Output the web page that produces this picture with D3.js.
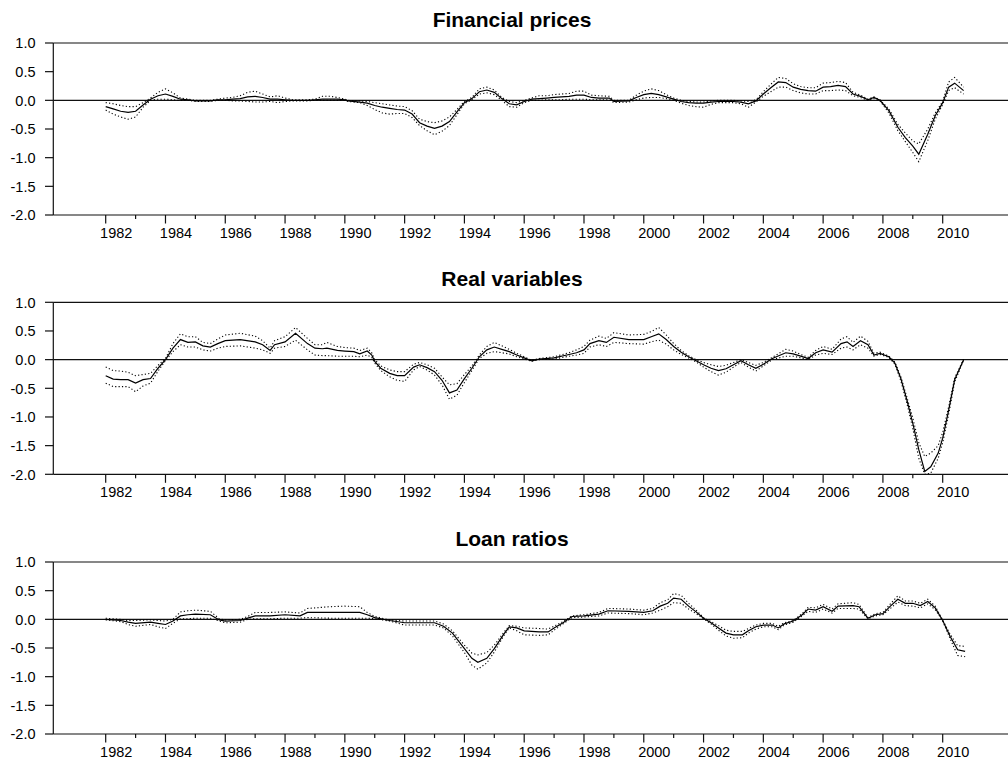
<!DOCTYPE html>
<html>
<head>
<meta charset="utf-8">
<script src="https://cdn.jsdelivr.net/npm/d3@7/dist/d3.min.js"></script>
<style>
  html, body { margin: 0; padding: 0; background: #fff; }
  svg { display: block; font-family: "Liberation Sans", Arial, sans-serif; }
</style>
</head>
<body>
<svg id="chart" width="1008" height="762"></svg>
<script>
// ---- Panel titles ----
const panelTitles = ["Financial prices", "Real variables", "Loan ratios"];

// ---- Axis ticks ----
const yTickValues = [1.0, 0.5, 0.0, -0.5, -1.0, -1.5, -2.0];
const yTickLabels = ["1.0", "0.5", "0.0", "-0.5", "-1.0", "-1.5", "-2.0"];
const xTickYears = d3.range(1982, 2011);
const xLabelYears = [1982, 1984, 1986, 1988, 1990, 1992, 1994, 1996, 1998, 2000, 2002, 2004, 2006, 2008, 2010];

// ---- Financial prices: estimate with upper / lower bands ----
const finDates = [1982.0,1982.25,1982.5,1982.75,1983.0,1983.25,1983.5,1983.75,1984.0,1984.25,1984.5,1984.75,1985.0,1985.5,1985.75,1986.0,1986.25,1986.5,1986.75,1987.0,1987.25,1987.5,1987.75,1988.0,1988.25,1988.75,1989.0,1989.25,1989.5,1989.75,1990.0,1990.1,1990.5,1990.75,1991.0,1991.25,1991.5,1991.75,1992.0,1992.25,1992.5,1992.75,1993.0,1993.25,1993.5,1993.75,1994.0,1994.25,1994.5,1994.75,1995.0,1995.25,1995.5,1995.75,1996.0,1996.25,1996.5,1996.75,1997.0,1997.25,1997.5,1997.75,1998.0,1998.25,1998.5,1998.85,1999.0,1999.5,1999.75,2000.0,2000.25,2000.5,2000.75,2001.0,2001.25,2001.5,2001.75,2002.0,2002.25,2002.5,2003.0,2003.25,2003.5,2003.75,2004.0,2004.25,2004.5,2004.75,2005.0,2005.25,2005.5,2005.75,2006.0,2006.25,2006.5,2006.75,2007.0,2007.25,2007.5,2007.7,2007.9,2008.2,2008.5,2008.75,2009.0,2009.2,2009.5,2009.75,2010.0,2010.2,2010.4,2010.7];
const finMid   = [-0.11,-0.15,-0.19,-0.21,-0.19,-0.08,0.02,0.08,0.11,0.07,0.02,0.01,-0.01,-0.01,0.01,0.01,0.02,0.03,0.06,0.07,0.05,0.02,0.02,0.01,0.0,0.0,0.01,0.02,0.02,0.02,0.01,-0.01,-0.03,-0.05,-0.09,-0.12,-0.14,-0.16,-0.17,-0.24,-0.39,-0.45,-0.49,-0.45,-0.37,-0.20,-0.04,0.03,0.15,0.18,0.14,0.03,-0.06,-0.08,-0.02,0.02,0.03,0.04,0.05,0.06,0.07,0.09,0.09,0.05,0.04,0.04,-0.02,-0.01,0.05,0.10,0.12,0.10,0.06,0.02,-0.02,-0.04,-0.05,-0.05,-0.03,-0.02,-0.02,-0.03,-0.06,-0.01,0.11,0.22,0.32,0.31,0.23,0.19,0.17,0.16,0.23,0.24,0.26,0.24,0.11,0.07,0.01,0.05,0.0,-0.18,-0.47,-0.65,-0.80,-0.94,-0.59,-0.27,-0.04,0.23,0.30,0.17];
const finUpper = [-0.04,-0.06,-0.09,-0.11,-0.11,-0.04,0.04,0.14,0.20,0.13,0.04,0.02,0.0,0.0,0.02,0.04,0.05,0.08,0.14,0.16,0.11,0.06,0.08,0.04,0.01,0.01,0.02,0.07,0.07,0.05,0.02,0.0,-0.01,-0.02,-0.04,-0.06,-0.08,-0.10,-0.11,-0.18,-0.33,-0.37,-0.39,-0.36,-0.29,-0.16,-0.02,0.05,0.20,0.23,0.18,0.05,-0.02,-0.04,0.0,0.04,0.08,0.08,0.10,0.11,0.12,0.16,0.16,0.09,0.08,0.07,0.0,0.0,0.09,0.16,0.20,0.17,0.10,0.04,0.0,-0.02,-0.03,-0.03,-0.01,0.0,0.0,-0.01,-0.02,0.01,0.15,0.28,0.40,0.38,0.29,0.24,0.22,0.22,0.30,0.31,0.33,0.31,0.14,0.09,0.02,0.06,0.01,-0.15,-0.42,-0.57,-0.71,-0.76,-0.50,-0.22,-0.02,0.32,0.40,0.23];
const finLower = [-0.17,-0.24,-0.29,-0.33,-0.29,-0.12,0.0,0.02,0.02,0.01,0.0,0.0,-0.02,-0.02,0.0,0.0,-0.01,-0.01,-0.02,-0.03,-0.03,-0.02,-0.04,-0.02,-0.01,-0.01,0.0,0.0,0.0,0.0,0.0,-0.02,-0.04,-0.09,-0.16,-0.22,-0.24,-0.23,-0.23,-0.30,-0.44,-0.53,-0.60,-0.54,-0.44,-0.25,-0.06,0.01,0.11,0.13,0.10,0.0,-0.11,-0.12,-0.04,0.0,0.0,0.01,0.01,0.01,0.02,0.02,0.02,0.01,0.01,0.01,-0.04,-0.03,0.01,0.04,0.05,0.05,0.03,0.0,-0.05,-0.09,-0.11,-0.12,-0.07,-0.04,-0.04,-0.06,-0.12,-0.03,0.07,0.15,0.23,0.23,0.17,0.13,0.11,0.11,0.17,0.17,0.18,0.17,0.08,0.05,0.0,0.03,-0.01,-0.22,-0.53,-0.72,-0.91,-1.07,-0.70,-0.33,-0.07,0.17,0.22,0.11];

// ---- Real variables ----
const realDates = [1982.0,1982.25,1982.5,1982.75,1983.0,1983.25,1983.5,1983.75,1984.0,1984.25,1984.5,1984.75,1985.0,1985.25,1985.5,1985.75,1986.0,1986.5,1987.0,1987.25,1987.5,1987.65,1988.0,1988.35,1988.75,1989.0,1989.25,1989.4,1989.75,1990.0,1990.3,1990.5,1990.75,1990.9,1991.0,1991.2,1991.5,1991.75,1992.0,1992.3,1992.5,1992.75,1993.0,1993.25,1993.5,1993.75,1994.0,1994.25,1994.5,1994.75,1995.0,1995.25,1995.5,1995.75,1996.0,1996.25,1996.5,1997.0,1997.5,1997.75,1998.0,1998.2,1998.5,1998.75,1999.0,1999.5,2000.0,2000.25,2000.5,2000.75,2001.0,2001.25,2001.5,2001.75,2002.0,2002.25,2002.5,2002.75,2003.0,2003.25,2003.5,2003.75,2004.0,2004.3,2004.75,2005.0,2005.25,2005.5,2005.75,2006.0,2006.3,2006.6,2006.8,2007.0,2007.25,2007.5,2007.7,2007.9,2008.2,2008.4,2008.6,2008.8,2009.0,2009.2,2009.4,2009.6,2009.85,2010.0,2010.2,2010.4,2010.7];
const realMid   = [-0.28,-0.34,-0.35,-0.35,-0.41,-0.35,-0.33,-0.15,0.0,0.20,0.35,0.30,0.31,0.24,0.22,0.28,0.33,0.35,0.31,0.26,0.16,0.26,0.31,0.46,0.28,0.20,0.19,0.20,0.16,0.15,0.14,0.10,0.15,0.08,-0.03,-0.15,-0.24,-0.28,-0.28,-0.13,-0.09,-0.14,-0.21,-0.36,-0.58,-0.53,-0.33,-0.15,0.05,0.17,0.22,0.18,0.14,0.08,0.03,-0.02,0.01,0.03,0.09,0.12,0.17,0.28,0.33,0.30,0.39,0.35,0.35,0.40,0.45,0.35,0.23,0.13,0.05,-0.02,-0.09,-0.15,-0.19,-0.16,-0.09,-0.02,-0.09,-0.15,-0.08,0.02,0.12,0.10,0.06,0.02,0.12,0.17,0.13,0.28,0.31,0.23,0.33,0.26,0.08,0.11,0.05,-0.06,-0.33,-0.70,-1.11,-1.57,-1.95,-1.87,-1.63,-1.37,-0.88,-0.35,0.0];
const realUpper = [-0.13,-0.19,-0.20,-0.22,-0.28,-0.26,-0.24,-0.10,0.02,0.28,0.45,0.40,0.40,0.30,0.28,0.36,0.43,0.46,0.41,0.33,0.20,0.33,0.40,0.56,0.37,0.26,0.26,0.30,0.23,0.21,0.20,0.16,0.20,0.12,0.0,-0.11,-0.18,-0.21,-0.21,-0.08,-0.05,-0.09,-0.15,-0.30,-0.44,-0.42,-0.26,-0.11,0.08,0.23,0.30,0.24,0.18,0.11,0.05,-0.01,0.02,0.05,0.12,0.17,0.23,0.34,0.41,0.37,0.47,0.43,0.44,0.49,0.56,0.43,0.28,0.16,0.07,0.0,-0.05,-0.09,-0.12,-0.10,-0.05,0.0,-0.05,-0.10,-0.05,0.04,0.18,0.15,0.09,0.04,0.16,0.23,0.18,0.36,0.40,0.30,0.41,0.32,0.11,0.13,0.06,-0.04,-0.30,-0.65,-1.02,-1.45,-1.69,-1.63,-1.50,-1.27,-0.82,-0.32,0.01];
const realLower = [-0.41,-0.47,-0.47,-0.47,-0.56,-0.46,-0.41,-0.20,-0.02,0.14,0.26,0.22,0.22,0.17,0.15,0.20,0.23,0.24,0.20,0.17,0.11,0.20,0.23,0.34,0.17,0.08,0.07,0.07,0.06,0.06,0.06,0.05,0.08,0.04,-0.06,-0.19,-0.30,-0.36,-0.38,-0.18,-0.12,-0.18,-0.27,-0.44,-0.69,-0.62,-0.40,-0.19,0.02,0.11,0.14,0.12,0.10,0.05,0.01,-0.03,0.0,0.01,0.06,0.08,0.11,0.22,0.26,0.23,0.30,0.28,0.27,0.31,0.34,0.27,0.17,0.09,0.03,-0.04,-0.13,-0.21,-0.27,-0.22,-0.13,-0.05,-0.13,-0.20,-0.11,0.0,0.06,0.06,0.03,0.0,0.08,0.11,0.09,0.20,0.22,0.17,0.26,0.20,0.06,0.09,0.04,-0.08,-0.37,-0.76,-1.20,-1.72,-2.00,-1.98,-1.72,-1.45,-0.95,-0.39,-0.01];

// ---- Loan ratios ----
const loanDates = [1982.0,1982.5,1982.75,1983.0,1983.5,1983.75,1984.0,1984.25,1984.5,1984.75,1985.0,1985.5,1985.8,1986.0,1986.5,1986.75,1987.0,1987.5,1988.0,1988.5,1988.75,1989.5,1990.0,1990.5,1990.75,1991.0,1991.5,1992.0,1992.5,1993.0,1993.3,1993.6,1994.0,1994.25,1994.45,1994.75,1995.0,1995.3,1995.5,1995.75,1996.0,1996.5,1996.8,1997.0,1997.3,1997.6,1998.0,1998.5,1998.8,1999.5,2000.0,2000.3,2000.55,2000.8,2001.0,2001.25,2001.5,2001.75,2002.0,2002.25,2002.5,2002.75,2003.0,2003.3,2003.5,2003.75,2004.0,2004.3,2004.5,2004.7,2005.0,2005.3,2005.5,2005.75,2006.0,2006.3,2006.5,2007.0,2007.2,2007.5,2007.75,2008.0,2008.25,2008.5,2008.75,2009.0,2009.25,2009.5,2009.75,2010.0,2010.25,2010.5,2010.75];
const loanMid   = [0.0,-0.02,-0.05,-0.07,-0.05,-0.07,-0.09,-0.03,0.06,0.08,0.09,0.08,-0.01,-0.03,-0.02,0.02,0.06,0.06,0.08,0.06,0.12,0.12,0.12,0.12,0.08,0.03,-0.02,-0.06,-0.06,-0.06,-0.12,-0.24,-0.51,-0.68,-0.75,-0.68,-0.51,-0.27,-0.13,-0.15,-0.20,-0.22,-0.22,-0.15,-0.06,0.05,0.06,0.09,0.15,0.14,0.12,0.15,0.23,0.28,0.37,0.35,0.23,0.13,0.02,-0.06,-0.15,-0.24,-0.27,-0.27,-0.20,-0.13,-0.10,-0.10,-0.15,-0.08,-0.03,0.08,0.18,0.16,0.22,0.14,0.23,0.24,0.22,0.02,0.08,0.10,0.23,0.35,0.28,0.28,0.24,0.31,0.20,-0.02,-0.30,-0.53,-0.56];
const loanUpper = [0.02,0.0,-0.02,-0.02,-0.01,-0.02,-0.03,0.0,0.13,0.15,0.16,0.14,0.01,-0.01,0.0,0.05,0.12,0.12,0.13,0.11,0.19,0.22,0.23,0.22,0.12,0.05,-0.01,-0.03,-0.03,-0.03,-0.08,-0.20,-0.45,-0.59,-0.62,-0.58,-0.45,-0.24,-0.11,-0.12,-0.15,-0.16,-0.17,-0.12,-0.04,0.06,0.08,0.12,0.19,0.18,0.16,0.19,0.29,0.34,0.45,0.42,0.28,0.16,0.03,-0.04,-0.11,-0.19,-0.21,-0.21,-0.16,-0.10,-0.07,-0.07,-0.12,-0.06,-0.02,0.10,0.21,0.20,0.26,0.18,0.27,0.29,0.26,0.03,0.10,0.12,0.27,0.41,0.32,0.32,0.28,0.35,0.23,-0.01,-0.26,-0.46,-0.47];
const loanLower = [-0.01,-0.04,-0.09,-0.12,-0.09,-0.13,-0.16,-0.07,0.01,0.01,0.02,0.02,-0.03,-0.06,-0.05,0.0,0.01,0.01,0.02,0.02,0.03,0.02,0.02,0.02,0.02,0.01,-0.03,-0.10,-0.10,-0.10,-0.15,-0.29,-0.58,-0.80,-0.87,-0.76,-0.57,-0.30,-0.15,-0.20,-0.27,-0.28,-0.27,-0.19,-0.08,0.03,0.04,0.06,0.11,0.10,0.08,0.11,0.16,0.22,0.29,0.28,0.18,0.10,0.01,-0.08,-0.19,-0.29,-0.33,-0.32,-0.24,-0.17,-0.13,-0.13,-0.18,-0.10,-0.05,0.06,0.14,0.12,0.18,0.11,0.19,0.19,0.18,0.01,0.06,0.08,0.19,0.30,0.24,0.23,0.20,0.27,0.17,-0.03,-0.34,-0.63,-0.65];

const panels = [
  { title: panelTitles[0], dates: finDates,  mid: finMid,  upper: finUpper,  lower: finLower  },
  { title: panelTitles[1], dates: realDates, mid: realMid, upper: realUpper, lower: realLower },
  { title: panelTitles[2], dates: loanDates, mid: loanMid, upper: loanUpper, lower: loanLower }
];

// ---- Layout ----
const svg = d3.select("#chart");
const axisLeft = 53.3;
const plotRight = 1015;
const panelTops = [43, 302.3, 562];
const panelHeight = 172;
const ink = "#111";

// one shared time scale for all three panels
const x = d3.scaleLinear().domain([1982, 2010]).range([105.7, 942.7]);

panels.forEach((p, i) => {
  const top = panelTops[i];
  const bottom = top + panelHeight;
  const y = d3.scaleLinear().domain([-2, 1]).range([bottom, top]);
  const g = svg.append("g");

  // title
  g.append("text")
    .attr("x", 512).attr("y", top - 16.3)
    .attr("text-anchor", "middle")
    .attr("font-size", 21).attr("font-weight", "bold").attr("fill", "#000")
    .text(p.title);

  // frame: top rule, left axis, bottom axis
  g.append("line").attr("x1", axisLeft).attr("x2", plotRight).attr("y1", top).attr("y2", top)
    .attr("stroke", ink).attr("stroke-width", 1.2);
  g.append("line").attr("x1", axisLeft).attr("x2", axisLeft).attr("y1", top).attr("y2", bottom)
    .attr("stroke", ink).attr("stroke-width", 1.2);
  g.append("line").attr("x1", axisLeft).attr("x2", plotRight).attr("y1", bottom).attr("y2", bottom)
    .attr("stroke", ink).attr("stroke-width", 1.2);

  // y ticks and labels
  yTickValues.forEach((v, k) => {
    g.append("line").attr("x1", 45).attr("x2", axisLeft).attr("y1", y(v)).attr("y2", y(v))
      .attr("stroke", ink).attr("stroke-width", 1.2);
    g.append("text").attr("x", 35.5).attr("y", y(v)).attr("dy", "0.36em")
      .attr("text-anchor", "end").attr("font-size", 14.5).attr("fill", "#000")
      .text(yTickLabels[k]);
  });

  // x ticks: long on labelled years, short in between
  xTickYears.forEach(yr => {
    const major = xLabelYears.includes(yr);
    g.append("line").attr("x1", x(yr)).attr("x2", x(yr))
      .attr("y1", bottom).attr("y2", bottom + (major ? 8.5 : 4))
      .attr("stroke", ink).attr("stroke-width", 1.2);
  });
  xLabelYears.forEach(yr => {
    g.append("text").attr("x", x(yr) + 10.5).attr("y", bottom + 22.8)
      .attr("text-anchor", "middle").attr("font-size", 14.5).attr("fill", "#000")
      .text(yr);
  });

  // plot area clip
  const clipId = "clip" + i;
  svg.append("clipPath").attr("id", clipId)
    .append("rect").attr("x", axisLeft).attr("y", top).attr("width", plotRight - axisLeft).attr("height", panelHeight);

  const plot = g.append("g").attr("clip-path", `url(#${clipId})`);

  // zero reference line
  plot.append("line").attr("x1", axisLeft).attr("x2", plotRight).attr("y1", y(0)).attr("y2", y(0))
    .attr("stroke", ink).attr("stroke-width", 1.1);

  const line = vals => d3.line()
    .x((d, k) => x(p.dates[k]))
    .y(d => y(d))(vals);

  // confidence bands (dotted)
  [p.upper, p.lower].forEach(band => {
    plot.append("path").attr("d", line(band))
      .attr("fill", "none").attr("stroke", "#000").attr("stroke-width", 1.1)
      .attr("stroke-dasharray", "1.2,2.2");
  });
  // central estimate
  plot.append("path").attr("d", line(p.mid))
    .attr("fill", "none").attr("stroke", "#000").attr("stroke-width", 1.2);
});
</script>
</body>
</html>
